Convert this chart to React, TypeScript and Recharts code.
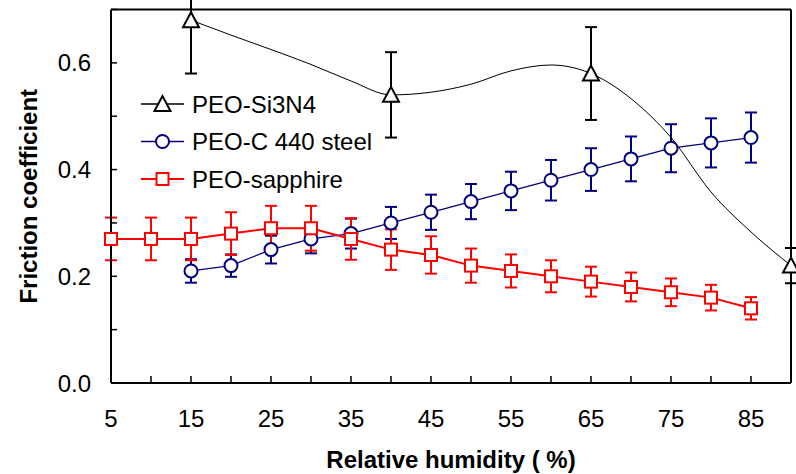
import { LineChart, Line, XAxis, YAxis, ErrorBar, ReferenceLine, Legend, Label } from 'recharts'

const humidity = [5, 10, 15, 20, 25, 30, 35, 40, 45, 50, 55, 60, 65, 70, 75, 80, 85, 90]

// PEO-sapphire (red squares)
const sapphire = [0.27, 0.27, 0.27, 0.28, 0.29, 0.29, 0.27, 0.25, 0.24, 0.22, 0.21, 0.2, 0.19, 0.18, 0.17, 0.16, 0.14, null]
const sapphireErr = [0.04, 0.04, 0.04, 0.04, 0.042, 0.042, 0.039, 0.038, 0.035, 0.032, 0.031, 0.03, 0.028, 0.027, 0.026, 0.024, 0.021, null]

// PEO-C 440 steel (blue circles)
const steel = [null, null, 0.21, 0.22, 0.25, 0.27, 0.28, 0.3, 0.32, 0.34, 0.36, 0.38, 0.4, 0.42, 0.44, 0.45, 0.46, null]
const steelErr = [null, null, 0.022, 0.021, 0.026, 0.027, 0.028, 0.03, 0.033, 0.033, 0.036, 0.038, 0.04, 0.042, 0.045, 0.046, 0.047, null]

// PEO-Si3N4 (black triangles) + the smoothed curve drawn through them
const si3n4 = [null, null, 0.68, null, null, null, null, 0.54, null, null, null, null, 0.58, null, null, null, null, 0.22]
const si3n4Err = [null, null, 0.1, null, null, null, null, 0.08, null, null, null, null, 0.087, null, null, null, null, 0.033]
const si3n4Curve = [null, null, 0.68, 0.652, 0.625, 0.597, 0.566, 0.54, 0.545, 0.56, 0.585, 0.596, 0.58, 0.533, 0.46, 0.358, 0.283, 0.22]

const xTicks = [5, 10, 15, 20, 25, 30, 35, 40, 45, 50, 55, 60, 65, 70, 75, 80, 85, 90]
const yTicks = [0, 0.1, 0.2, 0.3, 0.4, 0.5, 0.6, 0.7]

const BLUE = '#000080'
const RED = '#ff0000'

const data = humidity.map((h, i) => ({
  h,
  sapphire: sapphire[i],
  sapphireErr: sapphireErr[i],
  steel: steel[i],
  steelErr: steelErr[i],
  si3n4: si3n4[i],
  si3n4Err: si3n4Err[i],
  si3n4Curve: si3n4Curve[i],
}))

const Square = ({ cx, cy, color }: any) => (
  <rect x={cx - 6} y={cy - 6} width={12} height={12} fill="#fff" stroke={color} strokeWidth={2} />
)
const Circle = ({ cx, cy, color }: any) => (
  <circle cx={cx} cy={cy} r={6.5} fill="#fff" stroke={color} strokeWidth={2} />
)
const Triangle = ({ cx, cy, color }: any) => (
  <polygon points={`${cx},${cy - 8} ${cx - 8},${cy + 7} ${cx + 8},${cy + 7}`} fill="#fff" stroke={color} strokeWidth={2} />
)

const makeDot = (Shape: any, color: string) => (props: any) => {
  if (props.cy == null || props.cx == null || props.value == null) return <g key={`e-${props.index}`} />
  return <Shape key={`d-${props.index}`} cx={props.cx} cy={props.cy} color={color} />
}

const legendItems = [
  { name: 'PEO-Si3N4', color: '#000', width: 1.3, Shape: Triangle },
  { name: 'PEO-C 440 steel', color: BLUE, width: 1.3, Shape: Circle },
  { name: 'PEO-sapphire', color: RED, width: 2, Shape: Square },
]

const LegendBox = () => (
  <svg width={260} height={120}>
    {legendItems.map((it, i) => {
      const y = 24 + i * 37.5
      return (
        <g key={it.name}>
          <line x1={11} x2={54} y1={y} y2={y} stroke={it.color} strokeWidth={it.width} />
          <it.Shape cx={32.5} cy={y} color={it.color} />
          <text x={62} y={y + 8.5} fontSize={24} fill="#000">{it.name}</text>
        </g>
      )
    })}
  </svg>
)

const XTitle = (props: any) => {
  const vb = props.viewBox
  return (
    <text x={vb.x + vb.width / 2} y={vb.y + 85} textAnchor="middle" fontSize={24} fontWeight="bold" fill="#000">
      Relative humidity ( %)
    </text>
  )
}

const YTitle = (props: any) => {
  const vb = props.viewBox
  const cy = vb.y + vb.height / 2
  return (
    <text transform={`translate(37, ${cy}) rotate(-90)`} textAnchor="middle" fontSize={24} fontWeight="bold" fill="#000">
      Friction coefficient
    </text>
  )
}

export default function App() {
  return (
    <div style={{ position: 'absolute', left: 0, top: 0, fontFamily: '"Liberation Sans", Arial, sans-serif', background: '#fff' }}>
      <LineChart width={796} height={474} data={data} margin={{ top: 9.5, right: 5, bottom: 0, left: 0 }}>
        <XAxis dataKey="h" type="number" domain={[5, 90]} ticks={xTicks} interval={0}
          tickFormatter={(v) => ((v - 5) % 10 === 0 ? String(v) : '')}
          tickSize={-7} tickMargin={34} height={91}
          axisLine={{ stroke: '#000', strokeWidth: 2 }} tickLine={{ stroke: '#000', strokeWidth: 1.5 }}
          tick={{ fill: '#000', fontSize: 24 }}>
          <Label content={<XTitle />} />
        </XAxis>
        <YAxis type="number" domain={[0, 0.7]} ticks={yTicks} interval={0} allowDataOverflow
          tickFormatter={(v) => (Math.round(v * 10) % 2 === 0 ? v.toFixed(1) : '')}
          tickSize={-6} tickMargin={26} width={111}
          axisLine={{ stroke: '#000', strokeWidth: 2 }} tickLine={{ stroke: '#000', strokeWidth: 1.5 }}
          tick={{ fill: '#000', fontSize: 24 }}>
          <Label content={<YTitle />} />
        </YAxis>
        <ReferenceLine y={0.7} stroke="#000" strokeWidth={2} />
        <ReferenceLine x={90} stroke="#000" strokeWidth={2} />
        <Legend layout="vertical" align="center" verticalAlign="middle" content={<LegendBox />}
          wrapperStyle={{ left: 130, top: 80, width: 260, height: 120 }} />

        <Line dataKey="steel" type="linear" stroke={BLUE} strokeWidth={1.3}
          dot={makeDot(Circle, BLUE)} activeDot={false} isAnimationActive={false}>
          <ErrorBar dataKey="steelErr" direction="y" width={6} stroke={BLUE} strokeWidth={2} />
        </Line>
        <Line dataKey="sapphire" type="linear" stroke={RED} strokeWidth={2}
          dot={makeDot(Square, RED)} activeDot={false} isAnimationActive={false}>
          <ErrorBar dataKey="sapphireErr" direction="y" width={6} stroke={RED} strokeWidth={2} />
        </Line>
        <Line dataKey="si3n4Curve" type="monotone" stroke="#000" strokeWidth={1}
          dot={false} activeDot={false} isAnimationActive={false} />
        <Line dataKey="si3n4" type="linear" stroke="none" connectNulls
          dot={makeDot(Triangle, '#000')} activeDot={false} isAnimationActive={false}>
          <ErrorBar dataKey="si3n4Err" direction="y" width={6} stroke="#000" strokeWidth={2} />
        </Line>
      </LineChart>
    </div>
  )
}
